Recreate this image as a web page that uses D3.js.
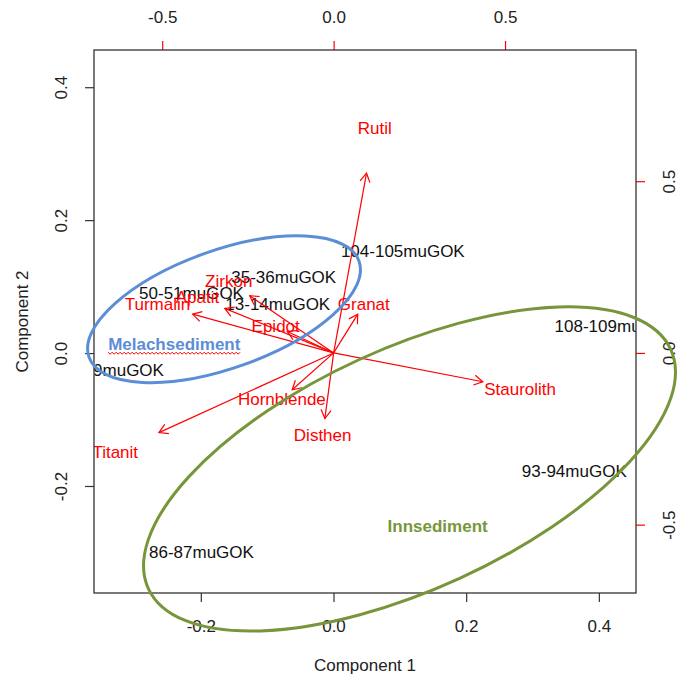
<!DOCTYPE html>
<html>
<head>
<meta charset="utf-8">
<script src="https://cdnjs.cloudflare.com/ajax/libs/d3/7.9.0/d3.min.js"></script>
<style>
  body { margin: 0; background: #fff; }
  svg { display: block; font-family: "Liberation Sans", Arial, sans-serif; }
</style>
</head>
<body>
<svg id="chart" width="679" height="675"></svg>
<script>
// variable loadings (top / right axes)
const minerals = ['Rutil', 'Granat', 'Zirkon', 'Apatit', 'Turmalin', 'Epidot', 'Staurolith', 'Hornblende', 'Disthen', 'Titanit'];
const loadX = [0.120, 0.088, -0.306, -0.397, -0.514, -0.169, 0.544, -0.151, -0.032, -0.637];
const loadY = [0.654, 0.141, 0.208, 0.162, 0.141, 0.078, -0.105, -0.134, -0.239, -0.290];

// sample scores (bottom / left axes)
const samples = ['104-105muGOK', '35-36muGOK', '50-51muGOK', '13-14muGOK', '9muGOK', '108-109muGOK', '93-94muGOK', '86-87muGOK'];
const scoreX = [0.1045, -0.075, -0.214, -0.084, -0.309, 0.4266, 0.363, -0.199];
const scoreY = [0.154, 0.115, 0.090, 0.074, -0.025, 0.0406, -0.178, -0.299];

// groups drawn over the biplot
const groups = ['Melachsediment', 'Innsediment'];
const groupColor = ['#5b8ed6', '#77963a'];
const groupX = [-0.240, 0.157];
const groupY = [0.014, -0.260];
const ellCX = [-0.165, 0.1146];
const ellCY = [0.066, -0.1744];
const ellA = [0.216, 0.433];
const ellB = [0.0888, 0.1815];
const ellAngle = [19.6, 24.6];

const lim = [-0.361, 0.456];
const limVar = [-0.699, 0.882];
const xTicks = [-0.2, 0.0, 0.2, 0.4];
const yTicks = [-0.2, 0.0, 0.2, 0.4];
const varTicks = [-0.5, 0.0, 0.5];

const L = 94, R = 636, T = 50, B = 593;
const fmt = v => d3.format('.1f')(v).replace('−', '-');

const svg = d3.select('#chart');
const x = d3.scaleLinear().domain(lim).range([L, R]);
const y = d3.scaleLinear().domain(lim).range([B, T]);
const x2 = d3.scaleLinear().domain(limVar).range([L, R]);
const y2 = d3.scaleLinear().domain(limVar).range([B, T]);

svg.append('defs').append('clipPath').attr('id', 'plotclip')
  .append('rect').attr('x', L).attr('y', T).attr('width', R - L).attr('height', B - T);

function styleAxis(g, col) {
  g.select('.domain').remove();
  g.selectAll('.tick line').attr('stroke', col).attr('stroke-width', 1.2);
  g.selectAll('.tick text').attr('fill', '#222').attr('font-size', 17)
    .attr('font-family', '"Liberation Sans", Arial, sans-serif');
}

// bottom
svg.append('g').attr('transform', `translate(0,${B})`)
  .call(d3.axisBottom(x).tickValues(xTicks).tickSize(9).tickFormat(fmt))
  .call(g => styleAxis(g, '#333'))
  .call(g => g.selectAll('.tick text').attr('y', 33).attr('dy', '0.35em'));
// left
svg.append('g').attr('transform', `translate(${L},0)`)
  .call(d3.axisLeft(y).tickValues(yTicks).tickSize(9).tickFormat(fmt))
  .call(g => styleAxis(g, '#333'))
  .call(g => g.selectAll('.tick text').attr('x', null).attr('dy', '0.35em')
    .attr('text-anchor', 'middle').attr('transform', 'translate(-33,0) rotate(-90)'));
// top
svg.append('g').attr('transform', `translate(0,${T})`)
  .call(d3.axisTop(x2).tickValues(varTicks).tickSize(9).tickFormat(fmt))
  .call(g => styleAxis(g, '#ff0000'))
  .call(g => g.selectAll('.tick text').attr('y', -33).attr('dy', '0.35em'));
// right
svg.append('g').attr('transform', `translate(${R},0)`)
  .call(d3.axisRight(y2).tickValues(varTicks).tickSize(9).tickFormat(fmt))
  .call(g => styleAxis(g, '#ff0000'))
  .call(g => g.selectAll('.tick text').attr('x', null).attr('dy', '0.35em')
    .attr('text-anchor', 'middle').attr('transform', 'translate(33,0) rotate(-90)'));

// axis titles
svg.append('text').attr('x', (L + R) / 2).attr('y', B + 72).attr('dy', '0.35em')
  .attr('text-anchor', 'middle').attr('font-size', 17).attr('fill', '#222').text('Component 1');
svg.append('text').attr('transform', `translate(${L - 72},${(T + B) / 2}) rotate(-90)`).attr('dy', '0.35em')
  .attr('text-anchor', 'middle').attr('font-size', 17).attr('fill', '#222').text('Component 2');

// plot contents
const plot = svg.append('g').attr('clip-path', 'url(#plotclip)');

samples.forEach((s, i) => {
  plot.append('text').attr('x', x(scoreX[i])).attr('y', y(scoreY[i])).attr('dy', '0.35em')
    .attr('text-anchor', 'middle').attr('font-size', 17).attr('fill', '#111').text(s);
});

const ox = x2(0), oy = y2(0);
minerals.forEach((m, i) => {
  const tx = x2(loadX[i] * 0.8), ty = y2(loadY[i] * 0.8);
  plot.append('line').attr('x1', ox).attr('y1', oy).attr('x2', tx).attr('y2', ty)
    .attr('stroke', '#ff0000').attr('stroke-width', 1.2);
  const ang = Math.atan2(ty - oy, tx - ox);
  const hl = 10, ha = Math.PI / 6;
  const p1 = [tx - hl * Math.cos(ang - ha), ty - hl * Math.sin(ang - ha)];
  const p2 = [tx - hl * Math.cos(ang + ha), ty - hl * Math.sin(ang + ha)];
  plot.append('path').attr('d', `M${p1[0]},${p1[1]}L${tx},${ty}L${p2[0]},${p2[1]}`)
    .attr('fill', 'none').attr('stroke', '#ff0000').attr('stroke-width', 1.2);
  plot.append('text').attr('x', x2(loadX[i])).attr('y', y2(loadY[i])).attr('dy', '0.35em')
    .attr('text-anchor', 'middle').attr('font-size', 17).attr('fill', '#ff0000').text(m);
});

// box
svg.append('rect').attr('x', L).attr('y', T).attr('width', R - L).attr('height', B - T)
  .attr('fill', 'none').attr('stroke', '#333').attr('stroke-width', 1.3);

// group ellipses and labels
groups.forEach((g, i) => {
  const cx = x(ellCX[i]), cy = y(ellCY[i]);
  svg.append('ellipse').attr('cx', cx).attr('cy', cy)
    .attr('rx', x(ellCX[i] + ellA[i]) - cx).attr('ry', x(ellCX[i] + ellB[i]) - cx)
    .attr('transform', `rotate(${-ellAngle[i]},${cx},${cy})`)
    .attr('fill', 'none').attr('stroke', groupColor[i]).attr('stroke-width', 3);
  const t = svg.append('text').attr('x', x(groupX[i])).attr('y', y(groupY[i])).attr('dy', '0.35em')
    .attr('text-anchor', 'middle').attr('font-size', 17).attr('font-weight', 'bold')
    .attr('fill', groupColor[i]).text(g);
  if (i === 0) {
    // spell-check squiggle under the first label
    const bb = t.node().getBBox();
    const yy = bb.y + bb.height - 1;
    const pts = d3.range(bb.x, bb.x + bb.width, 2).map((px, k) => [px, yy + (k % 2 ? 1.5 : -0.5)]);
    svg.append('path').attr('d', d3.line()(pts)).attr('fill', 'none')
      .attr('stroke', '#ff0000').attr('stroke-width', 1);
  }
});
</script>
</body>
</html>
